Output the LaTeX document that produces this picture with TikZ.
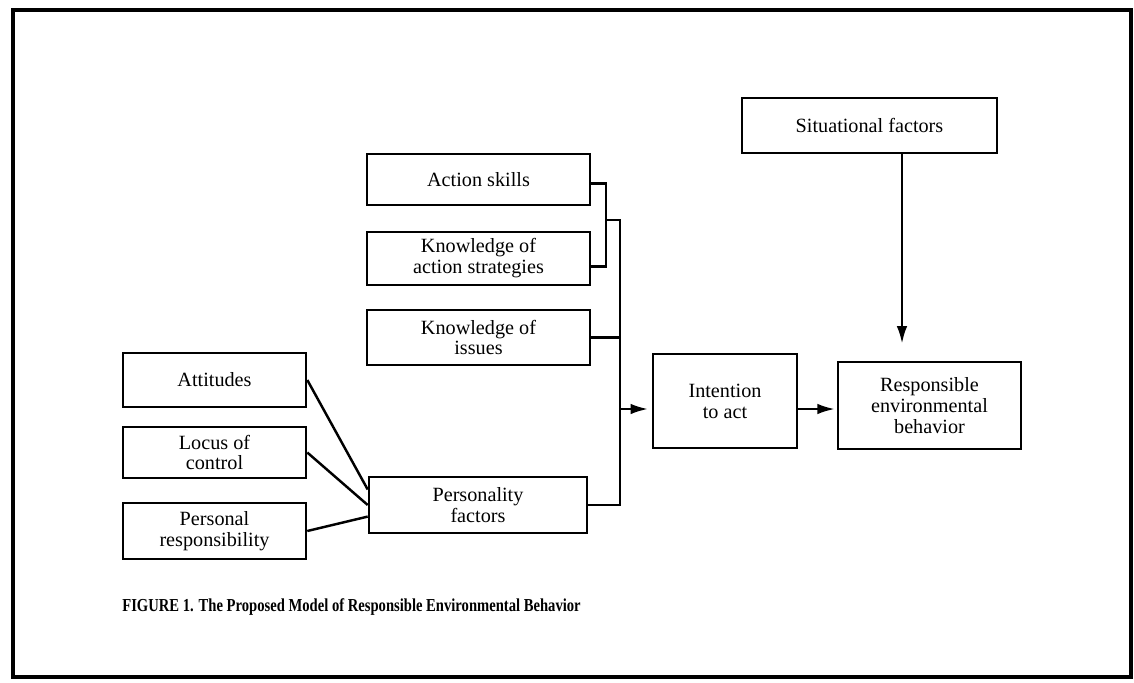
\documentclass[tikz,border=0pt]{standalone}
\usepackage{fontspec}
\setmainfont{Liberation Serif}
\newfontfamily\capfont[FakeStretch=0.8]{Liberation Serif}
\usepackage{tikz}
\usetikzlibrary{arrows.meta}

\begin{document}
\begin{tikzpicture}[x=0.02cm, y=-0.02cm,
		box/.style={draw, line width=1.5pt, align=center, inner sep=0pt, font=\fontsize{11.5}{11.9}\selectfont},
		link/.style={line width=1.4pt},
		arr/.style={line width=1.4pt, -{Latex[length=10pt, width=6pt]}}]
			\useasboundingbox (0, 0) rectangle (1134, 683);
			\draw[line width=1.8pt] (13, 10) rectangle (1131, 677);

			\node[box, minimum width=5.1cm, minimum height=1.1cm] (sit) at (869.5, 125.5) {Situational factors};
			\node[box, minimum width=4.46cm, minimum height=1.02cm] (skills) at (478.5, 179.5) {Action skills};
			\node[box, minimum width=4.46cm, minimum height=1.06cm] (strat) at (478.5, 258.5) {Knowledge of\\action strategies};
			\node[box, minimum width=4.46cm, minimum height=1.1cm] (issues) at (478.5, 337.5) {Knowledge of\\issues};
			\node[box, minimum width=3.66cm, minimum height=1.08cm] (att) at (214.5, 380) {Attitudes};
			\node[box, minimum width=3.66cm, minimum height=1.02cm] (locus) at (214.5, 452.5) {Locus of\\control};
			\node[box, minimum width=3.66cm, minimum height=1.12cm] (resp) at (214.5, 531) {Personal\\responsibility};
			\node[box, minimum width=4.36cm, minimum height=1.12cm] (pers) at (478, 505) {Personality\\factors};
			\node[box, minimum width=2.88cm, minimum height=1.88cm] (intent) at (725, 401) {Intention\\to act};
			\node[box, minimum width=3.66cm, minimum height=1.74cm] (behav) at (929.5, 405.5) {Responsible\\environmental\\behavior};
			\node[anchor=base west, inner sep=0pt, font=\capfont\bfseries\fontsize{10.4}{12}\selectfont] (caption) at (122, 611)
			{FIGURE 1. The Proposed Model of Responsible Environmental Behavior};

			\coordinate (brk) at (606, 220);
			\coordinate (bus) at (620, 220);
			\coordinate (flow) at (620, 409);
			\coordinate (drop) at (902, 153);

			\draw[link] (skills.358) -| (brk) |- (strat.356);
			\draw[link] (brk) -- (bus) |- (pers.east);
			\draw[link] (issues.east) -- (issues.east -| bus);
			\draw[arr, shorten >=2pt] (flow) -- (intent.west |- flow);
			\draw[arr, shorten >=1pt] (intent.east |- flow) -- (behav.west |- flow);
			\draw[arr, shorten >=0.34cm] (sit.south -| drop) -- (behav.north -| drop);

			\draw[link] (att.east) -- (pers.172);
			\draw[link] (locus.east) -- (pers.west);
			\draw[link] (resp.east) -- (pers.186);

		\end{tikzpicture}
\end{document}
